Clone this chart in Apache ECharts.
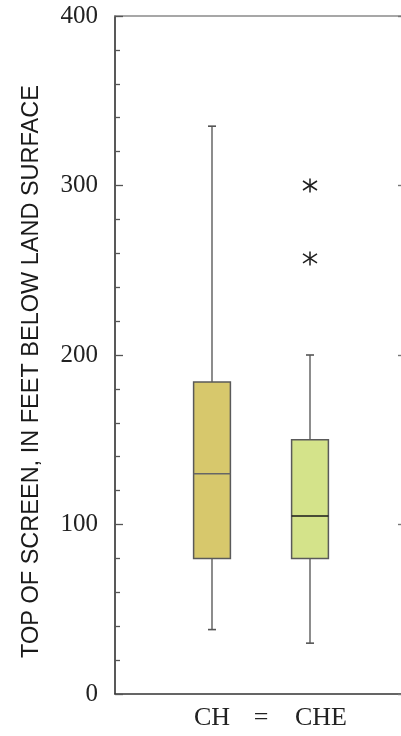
<!DOCTYPE html>
<html><head><meta charset="utf-8">
<script src="https://cdn.jsdelivr.net/npm/echarts@6/dist/echarts.min.js"></script>
<style>html,body{margin:0;padding:0;background:#fff}#c{width:401px;height:736px}</style>
</head><body><div id="c"></div>
<script>
// ---- data ----
const categories = ['CH', '=', 'CHE'];
const groups = ['CH', 'CHE'];
const lowWhisker = [38, 30];
const q1 = [80, 80];
const median = [130, 105];
const q3 = [184, 150];
const highWhisker = [335, 200];
const outlierGroup = ['CHE', 'CHE'];
const outlierValue = [300, 257];
const yMin = 0, yMax = 400, yStep = 100;
const yTitle = 'TOP OF SCREEN, IN FEET BELOW LAND SURFACE';

// ---- styles ----
const boxFill = ['#d7c86c', '#d4e38a'];
const medianColor = ['#666666', '#1a1a1a'];
const serif = 'Liberation Serif';

const boxData = groups.map((g, i) => [categories.indexOf(g), lowWhisker[i], q1[i], median[i], q3[i], highWhisker[i]]);
const outData = outlierGroup.map((g, i) => [categories.indexOf(g), outlierValue[i]]);

function renderBox(params, api) {
  const i = params.dataIndex;
  const c = api.value(0);
  const pLow = api.coord([c, api.value(1)]);
  const pQ1 = api.coord([c, api.value(2)]);
  const pMed = api.coord([c, api.value(3)]);
  const pQ3 = api.coord([c, api.value(4)]);
  const pHigh = api.coord([c, api.value(5)]);
  const x = pMed[0], hw = 18.4, cw = 4;
  const wStyle = { stroke: '#707070', lineWidth: 1.6 };
  const cStyle = { stroke: '#555555', lineWidth: 1.6 };
  return { type: 'group', children: [
    { type: 'line', shape: { x1: x, y1: pQ3[1], x2: x, y2: pHigh[1] }, style: wStyle },
    { type: 'line', shape: { x1: x, y1: pQ1[1], x2: x, y2: pLow[1] }, style: wStyle },
    { type: 'line', shape: { x1: x - cw, y1: pHigh[1], x2: x + cw, y2: pHigh[1] }, style: cStyle },
    { type: 'line', shape: { x1: x - cw, y1: pLow[1], x2: x + cw, y2: pLow[1] }, style: cStyle },
    { type: 'rect', shape: { x: x - hw, y: pQ3[1], width: 2 * hw, height: pQ1[1] - pQ3[1] },
      style: { fill: boxFill[i], stroke: '#5a5a5a', lineWidth: 1.5 } },
    { type: 'line', shape: { x1: x - hw, y1: pMed[1], x2: x + hw, y2: pMed[1] },
      style: { stroke: medianColor[i], lineWidth: 1.5 } }
  ]};
}

function renderStar(params, api) {
  const p = api.coord([api.value(0), api.value(1)]);
  const s = { stroke: '#1e1e1e', lineWidth: 1.5 };
  const x = p[0], y = p[1];
  return { type: 'group', children: [
    { type: 'line', shape: { x1: x, y1: y - 7, x2: x, y2: y + 7 }, style: s },
    { type: 'line', shape: { x1: x - 7, y1: y - 4.5, x2: x + 7, y2: y + 4.5 }, style: s },
    { type: 'line', shape: { x1: x - 7, y1: y + 4.5, x2: x + 7, y2: y - 4.5 }, style: s }
  ]};
}

const chart = echarts.init(document.getElementById('c'), null, { renderer: 'canvas' });
chart.setOption({
  animation: false,
  backgroundColor: '#ffffff',
  grid: [
    { left: 115, top: 16, right: -2, bottom: 42, outerBoundsMode: 'none', containLabel: false },
    { left: 187.5, width: 147, top: 16, bottom: 42, outerBoundsMode: 'none', containLabel: false }
  ],
  xAxis: [
    { gridIndex: 0, type: 'value', min: 0, max: 1, position: 'bottom',
      axisLine: { show: true, onZero: false, lineStyle: { color: '#333333', width: 1.5 } },
      axisTick: { show: false }, axisLabel: { show: false }, splitLine: { show: false } },
    { gridIndex: 0, type: 'value', min: 0, max: 1, position: 'top',
      axisLine: { show: true, onZero: false, lineStyle: { color: '#8a8a8a', width: 1.5 } },
      axisTick: { show: false }, axisLabel: { show: false }, splitLine: { show: false } },
    { gridIndex: 1, type: 'category', data: categories, position: 'bottom',
      axisLine: { show: false, onZero: false }, axisTick: { show: false }, splitLine: { show: false },
      axisLabel: { show: true, interval: 0, margin: 11, color: '#222222', fontFamily: serif, fontSize: 26,
        formatter: v => v === 'CHE' ? '{s|' + v + '}' : v,
        rich: { s: { fontFamily: serif, fontSize: 26, color: '#222222', padding: [0, 0, 0, 22] } } } }
  ],
  yAxis: [
    { gridIndex: 0, type: 'value', min: yMin, max: yMax, interval: yStep, position: 'left',
      name: yTitle, nameLocation: 'middle', nameRotate: 90, nameGap: 71,
      nameTextStyle: { fontFamily: 'Liberation Sans', fontSize: 23.5, color: '#1a1a1a', padding: [0, 33, 0, 0] },
      axisLine: { show: true, onZero: false, lineStyle: { color: '#222222', width: 1.5 } },
      axisTick: { show: true, inside: true, length: 8, lineStyle: { color: '#555555', width: 1.3 } },
      minorTick: { show: true, splitNumber: 5, length: 5, lineStyle: { color: '#555555', width: 1.3 } },
      axisLabel: { margin: 17, color: '#222222', fontFamily: serif, fontSize: 25 },
      splitLine: { show: false } },
    { gridIndex: 0, type: 'value', min: yMin, max: yMax, interval: yStep, position: 'right',
      axisLine: { show: false, onZero: false },
      axisTick: { show: true, inside: true, length: 5, lineStyle: { color: '#777777', width: 1.4 } },
      axisLabel: { show: false }, splitLine: { show: false } },
    { gridIndex: 1, type: 'value', min: yMin, max: yMax, show: false, splitLine: { show: false } }
  ],
  series: [
    { type: 'custom', xAxisIndex: 2, yAxisIndex: 2, data: boxData, renderItem: renderBox,
      encode: { x: 0, y: [1, 2, 3, 4, 5] }, silent: true },
    { type: 'custom', xAxisIndex: 2, yAxisIndex: 2, data: outData, renderItem: renderStar,
      encode: { x: 0, y: 1 }, silent: true }
  ]
});
</script></body></html>
